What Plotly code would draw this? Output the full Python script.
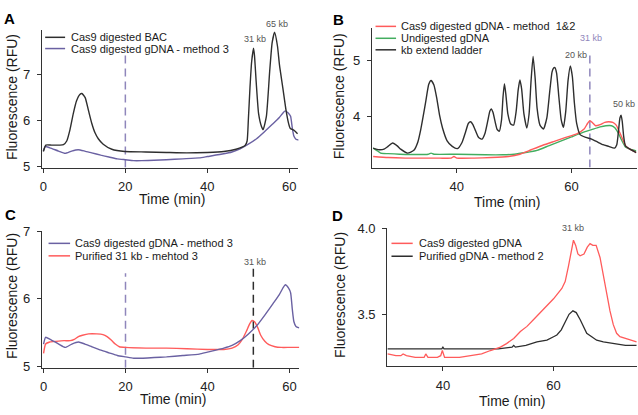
import plotly.graph_objects as go

W, H = 638, 415
FONT = "Arial, Liberation Sans, sans-serif"

# ---------------- data ----------------
# Panel A : Cas9 digested BAC (black)
bac_t = [0, 0.6, 2, 4, 4.9, 5.7, 6.5, 7.3, 8.1, 8.9, 9.4, 10.2, 11.0, 11.8, 12.6, 13.4, 14.6, 16.7,
         19.9, 25, 30, 35, 40, 44, 47, 49.2, 49.7, 50.0, 50.4, 50.8, 51.26, 51.5, 51.9, 52.5, 53.2,
         53.6, 54.4, 55.2, 55.8, 56.4, 57.1, 57.6, 58.4, 59.2, 59.8, 60.2, 61.2, 62.0]
bac_v = [5.32, 5.46, 5.46, 5.46, 5.47, 5.55, 5.80, 6.15, 6.43, 6.57, 6.59, 6.50, 6.22, 5.94, 5.73,
         5.60, 5.48, 5.37, 5.32, 5.31, 5.30, 5.29, 5.30, 5.32, 5.37, 5.45, 5.55, 6.01, 6.72, 7.28,
         7.58, 7.42, 6.86, 6.15, 5.87, 5.80, 6.09, 7.07, 7.70, 7.93, 7.63, 7.21, 6.72, 6.22, 5.94,
         5.83, 5.78, 5.71]

# Cas9 digested gDNA - method 3 (purple), panels A and C
m3_t = [0, 0.5, 1.6, 3.7, 5.3, 6.9, 8.5, 10.1, 11.8, 14, 16, 18, 20, 22, 24, 27, 30, 34, 38, 40,
        44, 46, 48, 50, 52, 54, 56, 57.5, 58.5, 59.0, 59.8, 60.3, 60.7, 61.1, 61.6, 62.4]
m3_v = [5.33, 5.43, 5.40, 5.33, 5.28, 5.33, 5.36, 5.33, 5.29, 5.24, 5.20, 5.16, 5.14, 5.12, 5.12,
        5.13, 5.14, 5.16, 5.18, 5.21, 5.27, 5.31, 5.38, 5.48, 5.60, 5.76, 5.93, 6.06, 6.17, 6.21,
        6.16, 6.09, 5.85, 5.66, 5.59, 5.57]

# Panel C : Purified 31 kb - mehtod 3 (red)
p31_t = [0, 0.5, 1.5, 3, 5, 6.5, 7.5, 8.5, 9.5, 11, 13, 14.5, 15.5, 16.5, 17.5, 18.5, 20, 25, 30,
         35, 40, 44, 46, 47.5, 48.5, 49.5, 50.3, 50.9, 51.5, 52.3, 53, 54, 55, 56.5, 58, 60, 62.4]
p31_v = [5.19, 5.33, 5.36, 5.37, 5.38, 5.38, 5.40, 5.44, 5.46, 5.48, 5.48, 5.47, 5.44, 5.39, 5.33,
         5.29, 5.28, 5.27, 5.27, 5.26, 5.25, 5.25, 5.27, 5.32, 5.40, 5.52, 5.63, 5.68, 5.66, 5.57,
         5.46, 5.37, 5.32, 5.29, 5.28, 5.28, 5.28]

# Panel B : kb extend ladder (black)
lad_t = [25.4, 26.4, 27.3, 28.0, 28.8, 29.6, 30.2, 31.4, 32.5, 33.2, 33.7, 34.2, 34.6, 35.1, 35.5,
         36.0, 36.5, 37.0, 37.5, 38.3, 39.2, 40.1, 40.9, 41.5, 42.0, 42.4, 42.8, 43.3, 43.8, 44.4,
         44.9, 45.4, 45.75, 46.0, 46.3, 46.7, 47.0, 47.4, 47.8, 48.05, 48.3, 48.55, 48.9, 49.4,
         49.9, 50.35, 50.7, 51.0, 51.3, 51.7, 52.2, 52.6, 52.95, 53.3, 53.65, 54.0, 54.5, 55.1,
         55.7, 56.2, 56.6, 56.85, 57.1, 57.4, 57.8, 58.2, 58.6, 59.0, 59.4, 59.8, 60.15, 60.5,
         60.9, 61.5, 62.5, 63.5, 64.5, 65.5, 66.5, 67.5, 67.9, 68.2, 68.45, 68.65, 68.85, 69.1,
         69.4, 70.2, 71.3]
lad_v = [3.44, 3.41, 3.42, 3.47, 3.53, 3.48, 3.42, 3.35, 3.40, 3.55, 3.77, 4.05, 4.29, 4.58, 4.65,
         4.57, 4.33, 4.02, 3.80, 3.57, 3.47, 3.43, 3.54, 3.72, 3.88, 3.91, 3.86, 3.74, 3.63, 3.60,
         3.70, 3.93, 4.10, 4.14, 4.08, 3.90, 3.78, 3.74, 3.95, 4.35, 4.59, 4.40, 4.05, 3.87,
         3.85, 4.10, 4.48, 4.66, 4.50, 4.05, 3.80, 4.05, 4.65, 5.08, 4.70, 4.15, 3.85, 3.78,
         3.98, 4.45, 4.80, 4.87, 4.88, 4.78, 4.35, 3.95, 3.81, 4.10, 4.65, 4.91, 4.72, 4.25,
         3.88, 3.68, 3.63, 3.60, 3.55, 3.50, 3.47, 3.44, 3.50, 3.75, 3.98, 4.03, 3.92, 3.65,
         3.48, 3.42, 3.36]

# Panel B : Cas9 digested gDNA - method 1&2 (red)
m12_t = [25.4, 28, 31, 34, 37, 39, 39.5, 40, 43, 46, 49, 51, 53, 55, 57, 59, 61, 62.2, 62.8, 63.2,
         63.7, 64.2, 65, 65.8, 66.5, 67.2, 67.8, 68.4, 69.0, 69.5, 70.2, 71.3]
m12_v = [3.29, 3.27, 3.26, 3.26, 3.26, 3.26, 3.29, 3.26, 3.26, 3.27, 3.29, 3.33, 3.41, 3.49, 3.56,
         3.63, 3.70, 3.78, 3.88, 3.93, 3.89, 3.84, 3.86, 3.90, 3.91, 3.90, 3.85, 3.72, 3.58, 3.47,
         3.42, 3.36]

# Panel B : Undigested gDNA (green)
und_t = [25.4, 26, 26.7, 28, 30, 35, 35.5, 36, 40, 45, 48, 50, 52, 54, 56, 58, 60, 62, 63.5, 65,
         66, 67, 67.6, 68.2, 68.8, 69.4, 70.2, 71.3]
und_v = [3.44, 3.40, 3.35, 3.34, 3.33, 3.33, 3.35, 3.33, 3.33, 3.32, 3.32, 3.33, 3.36, 3.40, 3.48,
         3.56, 3.64, 3.72, 3.77, 3.82, 3.84, 3.84, 3.80, 3.70, 3.57, 3.46, 3.42, 3.39]

# Panel D : Cas9 digested gDNA (red)
d_red_t = [30, 31.5, 32.4, 32.8, 33.4, 35, 36.6, 36.9, 37.3, 39, 39.6, 39.9, 40.3, 41, 43, 45, 47,
           48.6, 50.4, 51.5, 52.8, 54, 55.2, 56.4, 57.6, 58.8, 60, 61.5, 62.1, 62.7, 63.2, 63.6,
           64.0, 64.4, 64.8, 65.5, 66.1, 66.6, 67.1, 67.7, 68.4, 69.0, 69.6, 70.2, 70.8, 71.4, 72,
           73.2, 74, 75]
d_red_v = [3.27, 3.26, 3.26, 3.27, 3.26, 3.25, 3.25, 3.27, 3.25, 3.25, 3.26, 3.29, 3.25, 3.25,
           3.25, 3.26, 3.27, 3.29, 3.31, 3.33, 3.36, 3.40, 3.43, 3.47, 3.51, 3.55, 3.59, 3.65,
           3.69, 3.78, 3.87, 3.93, 3.90, 3.85, 3.84, 3.85, 3.89, 3.91, 3.90, 3.90, 3.83, 3.73,
           3.61, 3.52, 3.44, 3.39, 3.37, 3.36, 3.35, 3.34]

# Panel D : Purified gDNA - method 2 (black)
d_blk_t = [30, 35, 39.8, 40, 40.2, 45, 50, 52.5, 52.8, 53.1, 55, 57, 58.8, 60, 60.6, 61.4, 62.1,
           62.8, 63.5, 64.1, 64.8, 65.4, 66, 66.9, 67.8, 69, 70.8, 73, 75]
d_blk_v = [3.30, 3.30, 3.30, 3.31, 3.30, 3.30, 3.30, 3.31, 3.32, 3.31, 3.32, 3.34, 3.35, 3.37,
           3.38, 3.41, 3.46, 3.50, 3.52, 3.51, 3.47, 3.43, 3.39, 3.37, 3.35, 3.34, 3.33, 3.32, 3.32]

# reference (dashed) lines: x position, top value
dash_A = (20, 7.42)
dash_B = (63.2, 5.13)
dash_C1 = (20, 6.38)
dash_C2 = (51.2, 6.50)

names_A = ["Cas9 digested BAC", "Cas9 digested gDNA - method 3"]
names_B = ["Cas9 digested gDNA - method  1&2", "Undigested gDNA", "kb extend ladder"]
names_C = ["Cas9 digested gDNA - method 3", "Purified 31 kb - mehtod 3"]
names_D = ["Cas9 digested gDNA", "Purified gDNA - method 2"]

BLACK = "#2e2e2e"
PURPLE = "#6a61a2"
PURPLE_D = "#8f86bb"
RED = "#ff5b5b"
GREEN = "#43ad5f"

# ---------------- helpers ----------------
def px(x):
    return x / W

def py(y):
    return (H - y) / H

fig = go.Figure()

def line(xs, ys, color, xa, ya, shape="spline", width=1.4):
    fig.add_trace(go.Scatter(x=xs, y=ys, mode="lines", xaxis=xa, yaxis=ya,
                             line=dict(color=color, width=width, shape=shape, smoothing=0.5),
                             showlegend=False, hoverinfo="skip"))

# A
line(m3_t, m3_v, PURPLE, "x", "y")
line(bac_t, bac_v, BLACK, "x", "y")
# B
line(und_t, und_v, GREEN, "x2", "y2")
line(m12_t, m12_v, RED, "x2", "y2")
line(lad_t, lad_v, BLACK, "x2", "y2")
# C
line(p31_t, p31_v, RED, "x3", "y3")
line(m3_t, m3_v, PURPLE, "x3", "y3")
# D
line(d_blk_t, d_blk_v, BLACK, "x4", "y4", shape="linear", width=1.3)
line(d_red_t, d_red_v, RED, "x4", "y4", shape="linear", width=1.3)

# dashed reference lines
def vdash(xa, ya, xv, top, bottom, color):
    fig.add_shape(type="line", xref=xa, yref=ya, x0=xv, x1=xv, y0=bottom, y1=top,
                  line=dict(color=color, width=1.5, dash="8px,5px"), layer="below")

axes = {
    "A": dict(xd=(40, 297.3), yd=(165.7, 23.3), xr=(-0.36, 62.2), yr=(4.97, 7.99),
              xt=[0, 20, 40, 60], yt=[5, 6, 7]),
    "B": dict(xd=(371, 636.5), yd=(165.7, 21.7), xr=(25.17, 71.34), yr=(3.092, 5.588),
              xt=[40, 60], yt=[4, 5]),
    "C": dict(xd=(40, 298.3), yd=(372.3, 231.7), xr=(-0.41, 62.43), yr=(4.98, 7.0),
              xt=[0, 20, 40, 60], yt=[5, 6, 7]),
    "D": dict(xd=(386.3, 637.3), yd=(371, 228.3), xr=(29.91, 75.14), yr=(3.198, 4.0),
              xt=[40, 60], yt=[3.5, 4.0]),
}

vdash("x", "y", dash_A[0], dash_A[1], 4.97, PURPLE_D)
vdash("x2", "y2", dash_B[0], dash_B[1], 3.092, PURPLE_D)
vdash("x3", "y3", dash_C1[0], dash_C1[1], 4.98, PURPLE_D)
vdash("x3", "y3", dash_C2[0], dash_C2[1], 4.98, BLACK)

common = dict(showline=True, linecolor="#333", linewidth=1, ticks="outside", ticklen=4,
              tickcolor="#333", tickwidth=1, showgrid=False, zeroline=False,
              tickfont=dict(family=FONT, size=13, color="#222"), fixedrange=True)

layout = {}
for i, key in enumerate(["A", "B", "C", "D"]):
    a = axes[key]
    sfx = "" if i == 0 else str(i + 1)
    layout["xaxis" + sfx] = dict(common, domain=[px(a["xd"][0]), px(a["xd"][1])],
                                 range=list(a["xr"]), tickvals=a["xt"],
                                 anchor="y" + sfx, ticklabelstandoff=3)
    ytext = ["4.0" if v == 4.0 and key == "D" else str(v) for v in a["yt"]]
    layout["yaxis" + sfx] = dict(common, domain=[py(a["yd"][0]), py(a["yd"][1])],
                                 range=list(a["yr"]), tickvals=a["yt"], ticktext=ytext,
                                 anchor="x" + sfx, ticklabelstandoff=4)

annotations = []

def text(x, y, s, size=14, color="#1a1a1a", bold=False, angle=0, xanchor="center"):
    annotations.append(dict(x=px(x), y=py(y), xref="paper", yref="paper",
                            text=("<b>" + s + "</b>") if bold else s,
                            showarrow=False, textangle=angle, xanchor=xanchor, yanchor="middle",
                            font=dict(family=FONT, size=size, color=color)))

# panel letters
text(8, 11.5, "A", size=15, bold=True, color="#000")
text(338, 12.5, "B", size=15, bold=True, color="#000")
text(8.5, 214, "C", size=15, bold=True, color="#000")
text(337, 215, "D", size=15, bold=True, color="#000")

# axis titles
for (x, y) in [(170.8, 198), (506.3, 201), (171.7, 405), (512, 406.5)]:
    text(x, y, "Time (min)", size=14)
for (x, y) in [(10, 93), (337.5, 91.7), (10, 298.3), (338.8, 297.5)]:
    text(x, y, "Fluorescence (RFU)", size=14, angle=-90)

# kb labels
KB = "#555"
text(253.8, 32.7, "31 kb", size=9, color=KB)
text(275.5, 17.3, "65 kb", size=9, color=KB)
text(575.5, 49.3, "20 kb", size=9, color=KB)
text(591.3, 32.2, "31 kb", size=9, color=PURPLE_D)
text(623.8, 99.7, "50 kb", size=9, color=KB)
text(254.2, 263.7, "31 kb", size=9, color=KB)
text(573, 228.3, "31 kb", size=9, color=KB)

# manual legends
def legend(x0, x1, xt, rows, names, colors):
    for yv, nm, c in zip(rows, names, colors):
        fig.add_shape(type="line", xref="paper", yref="paper", x0=px(x0), x1=px(x1),
                      y0=py(yv), y1=py(yv), line=dict(color=c, width=1.5))
        text(xt, yv, nm, size=11, color="#1a1a1a", xanchor="left")

legend(43.3, 63.3, 67.5, [31.3, 42.9], names_A, [BLACK, PURPLE])
legend(374.7, 395.3, 398.5, [20, 32.3, 44.2], names_B, [RED, GREEN, BLACK])
legend(46.7, 68.3, 71.5, [244, 256.9], names_C, [PURPLE, RED])
legend(390.7, 412, 416, [244, 257.3], names_D, [RED, BLACK])

fig.update_layout(width=W, height=H, margin=dict(l=0, r=0, t=0, b=0),
                  paper_bgcolor="white", plot_bgcolor="white", annotations=annotations,
                  font=dict(family=FONT), **layout)

fig.write_html("out.html", config={"displayModeBar": False},
               post_script="document.body.style.margin='0px';")
